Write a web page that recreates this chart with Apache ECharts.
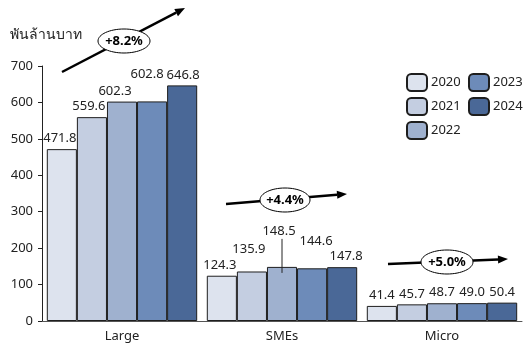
<!DOCTYPE html>
<html>
<head>
<meta charset="utf-8">
<script src="https://cdn.jsdelivr.net/npm/echarts@6/dist/echarts.min.js"></script>
<style>
  html, body { margin: 0; padding: 0; background: #fff; }
  #chart { width: 524px; height: 347px; }
</style>
</head>
<body>
<div id="chart"></div>
<script>
// Loan outstanding by borrower size (billion baht), 2020-2024
const categories = ['Large', 'SMEs', 'Micro'];
const years = ['2020', '2021', '2022', '2023', '2024'];
const values2020 = [471.8, 124.3, 41.4];
const values2021 = [559.6, 135.9, 45.7];
const values2022 = [602.3, 148.5, 48.7];
const values2023 = [602.8, 144.6, 49.0];
const values2024 = [646.8, 147.8, 50.4];
const growthLabels = ['+8.2%', '+4.4%', '+5.0%'];
const yTicks = [0, 100, 200, 300, 400, 500, 600, 700];

const seriesValues = [values2020, values2021, values2022, values2023, values2024];
const colors = ['#dde3ee', '#c4cee1', '#9fb1cf', '#6d8bb9', '#4a6897'];

// label nudges [dx, dy] keyed by "series-category" so crowded labels stay readable
const labelNudge = {
  '0-0': [-2, 0], '1-0': [-3, 0], '2-0': [-7, 0], '3-0': [-5, -17], '4-0': [1, 0],
  '0-1': [-2, 0], '1-1': [-3, -12], '2-1': [-3, -25], '3-1': [4, -17], '4-1': [4, 0]
};

const FONT = '"Noto Sans", "Liberation Sans", sans-serif';

const chart = echarts.init(document.getElementById('chart'), null, { renderer: 'canvas' });

const series = years.map((y, si) => ({
  name: y,
  type: 'bar',
  barGap: '0%',
  barCategoryGap: '6%',
  itemStyle: { color: colors[si], borderColor: '#1e1e1e', borderWidth: 1 },
  data: seriesValues[si].map((v, ci) => ({
    value: v,
    label: {
      show: true,
      position: 'top',
      distance: 4,
      color: '#222',
      fontSize: 13,
      fontFamily: FONT,
      formatter: (p) => p.value.toFixed(1),
      offset: labelNudge[si + '-' + ci] || [0, 0]
    }
  }))
}));

const legendCommon = {
  orient: 'vertical',
  itemWidth: 20,
  itemHeight: 17,
  itemGap: 5,
  textStyle: { fontSize: 13, fontFamily: FONT, color: '#222', padding: [0, 0, 0, -1] },
  selectedMode: false
};

chart.setOption({
  animation: false,
  grid: { left: 42, right: 2, top: 66, bottom: 26, containLabel: false },
  legend: [
    Object.assign({ data: years.slice(0, 3), left: 401, top: 68 }, legendCommon),
    Object.assign({ data: years.slice(3), left: 463, top: 68 }, legendCommon)
  ],
  xAxis: {
    type: 'category',
    data: categories,
    axisLine: { lineStyle: { color: '#555', width: 1 } },
    axisTick: { show: false },
    axisLabel: { color: '#222', fontSize: 13, fontFamily: FONT, margin: 9 }
  },
  yAxis: {
    type: 'value',
    min: yTicks[0],
    max: yTicks[yTicks.length - 1],
    interval: 100,
    axisLine: { show: true, lineStyle: { color: '#222', width: 1 } },
    axisTick: { show: true, length: 4, lineStyle: { color: '#222' } },
    splitLine: { show: false },
    axisLabel: { color: '#222', fontSize: 13, fontFamily: FONT, margin: 9 }
  },
  series: series
});

// growth arrows with ellipse badges
function arrow(x1, y1, x2, y2) {
  const ang = Math.atan2(y2 - y1, x2 - x1);
  const len = 10, half = 4;
  const bx = x2 - len * Math.cos(ang), by = y2 - len * Math.sin(ang);
  const px = -Math.sin(ang) * half, py = Math.cos(ang) * half;
  return [
    { type: 'line', shape: { x1: x1, y1: y1, x2: bx, y2: by }, style: { stroke: '#000', lineWidth: 2.5 }, z: 10 },
    { type: 'polygon', shape: { points: [[x2, y2], [bx + px, by + py], [bx - px, by - py]] }, style: { fill: '#000' }, z: 10 }
  ];
}
function badge(cx, cy, rx, ry, text) {
  return [
    { type: 'ellipse', shape: { cx: cx, cy: cy, rx: rx, ry: ry }, style: { fill: '#fff', stroke: '#000', lineWidth: 1 }, z: 11 },
    { type: 'text', x: cx, y: cy, style: { text: text, fill: '#000', font: 'bold 13px ' + FONT, align: 'center', verticalAlign: 'middle' }, z: 12 }
  ];
}

// leader line for the lifted 2022 SMEs label
const smeX = chart.convertToPixel({ xAxisIndex: 0 }, categories[1]);
const smeTop = chart.convertToPixel({ yAxisIndex: 0 }, values2022[1]);

const graphics = [
  { type: 'text', left: 10, top: 28, style: { text: 'พันล้านบาท', fill: '#222', font: '14px ' + FONT } },
  ...arrow(62, 72, 185, 8),
  ...badge(124, 41, 26, 12, growthLabels[0]),
  ...arrow(226, 204, 347, 194),
  ...badge(285, 200, 25, 12, growthLabels[1]),
  ...arrow(388, 264, 508, 259),
  ...badge(447, 262, 26, 12, growthLabels[2]),
  { type: 'line', shape: { x1: smeX, y1: smeTop - 28, x2: smeX, y2: smeTop + 6 }, style: { stroke: '#222', lineWidth: 1 }, z: 5 }
];
chart.setOption({ graphic: graphics });
</script>
</body>
</html>
